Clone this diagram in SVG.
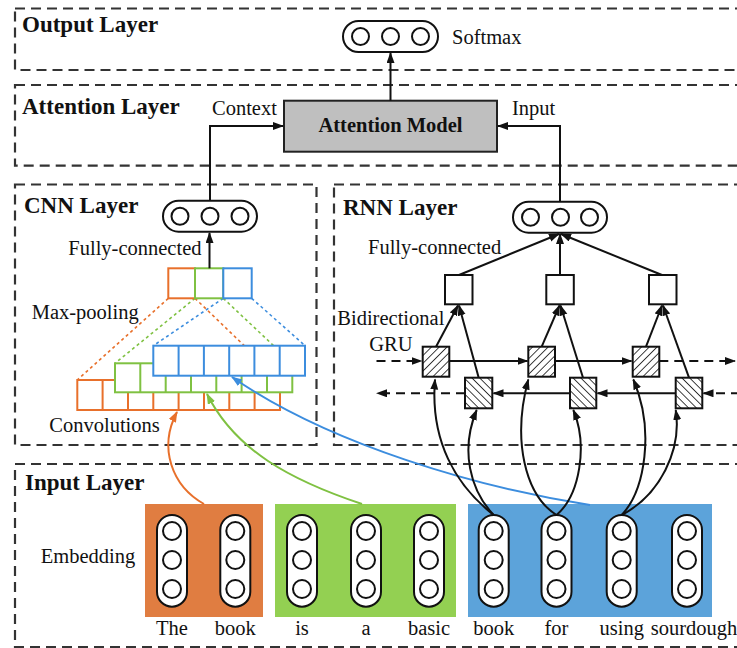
<svg xmlns="http://www.w3.org/2000/svg" width="737" height="648" viewBox="0 0 737 648">
<style>
text{font-family:"Liberation Serif","Times New Roman",serif;fill:#111}
.t{font-size:20.5px}
.h{font-size:23px;font-weight:bold}
.frame{fill:none;stroke:#333;stroke-width:2.2;stroke-dasharray:10,6}
.ln{fill:none;stroke:#111;stroke-width:2}
.dl{fill:none;stroke:#111;stroke-width:2;stroke-dasharray:9,6}
.box{fill:#fff;stroke:#111;stroke-width:2}
.cir{fill:#fff;stroke:#111;stroke-width:2}
.or{stroke:#E8702B}
.gr{stroke:#7FC142}
.bl{stroke:#3C8DDE}
.dot{fill:none;stroke-width:1.6;stroke-dasharray:3,3}
.cell{fill:#fff;stroke-width:2}
</style>
<defs>
<marker id="ah" markerUnits="userSpaceOnUse" markerWidth="12" markerHeight="10" refX="10" refY="4" orient="auto"><path d="M0,0 L11,4 L0,8 z" fill="#111"/></marker>
<marker id="aho" markerUnits="userSpaceOnUse" markerWidth="12" markerHeight="10" refX="10" refY="4" orient="auto"><path d="M0,0 L11,4 L0,8 z" fill="#E8702B"/></marker>
<marker id="ahg" markerUnits="userSpaceOnUse" markerWidth="12" markerHeight="10" refX="10" refY="4" orient="auto"><path d="M0,0 L11,4 L0,8 z" fill="#7FC142"/></marker>
<marker id="ahb" markerUnits="userSpaceOnUse" markerWidth="12" markerHeight="10" refX="10" refY="4" orient="auto"><path d="M0,0 L11,4 L0,8 z" fill="#3C8DDE"/></marker>
<pattern id="fwd" patternUnits="userSpaceOnUse" width="5.5" height="5.5" patternTransform="rotate(45)"><rect width="5.5" height="5.5" fill="#fff"/><line x1="0" y1="0" x2="0" y2="5.5" stroke="#111" stroke-width="1.6"/></pattern>
<pattern id="bwd" patternUnits="userSpaceOnUse" width="5.5" height="5.5" patternTransform="rotate(-45)"><rect width="5.5" height="5.5" fill="#fff"/><line x1="0" y1="0" x2="0" y2="5.5" stroke="#111" stroke-width="1.6"/></pattern>
</defs>
<rect width="737" height="648" fill="#fff"/>

<!-- layer frames -->
<g id="frames">
<rect class="frame" x="15" y="8.5" width="745" height="61.5"/>
<rect class="frame" x="15" y="85" width="745" height="80.7"/>
<rect class="frame" x="15" y="184.5" width="301.5" height="260.5"/>
<rect class="frame" x="334" y="184.5" width="426" height="260.5"/>
<rect class="frame" x="15" y="464" width="745" height="183"/>
</g>

<!-- input segment backgrounds -->
<g id="segments">
<rect id="seg-orange" x="145" y="504" width="118" height="113" fill="#E07D41"/>
<rect id="seg-green" x="275" y="504" width="181" height="113" fill="#93D052"/>
<rect id="seg-blue" x="468" y="504" width="244" height="113" fill="#5CA3DA"/>
</g>

<!-- Output layer -->
<g id="output-layer">
<text class="h" x="22" y="32">Output Layer</text>
</g>
<g id="softmax">
<rect class="box" x="343" y="21" width="95" height="31" rx="15.5"/>
<circle class="cir" cx="360.5" cy="36.5" r="8.5"/>
<circle class="cir" cx="390.5" cy="36.5" r="8.5"/>
<circle class="cir" cx="420.5" cy="36.5" r="8.5"/>
<text class="t" x="452" y="44">Softmax</text>
</g>

<!-- Attention layer -->
<g id="attention-layer">
<text class="h" x="22" y="114">Attention Layer</text>
<text class="t" x="212" y="115">Context</text>
<text class="t" x="512" y="115">Input</text>
</g>
<g id="attention-model">
<rect x="284" y="100.7" width="213" height="51" fill="#BFBFBF" stroke="#222" stroke-width="2"/>
<text x="390.5" y="132" text-anchor="middle" style="font-size:20.5px;font-weight:bold">Attention Model</text>
</g>

<!-- CNN layer -->
<g id="cnn-layer">
<text class="h" x="24" y="213">CNN Layer</text>
<text class="t" x="68.3" y="255">Fully-connected</text>
<text class="t" x="31.7" y="319">Max-pooling</text>
<text class="t" x="49.3" y="431.7">Convolutions</text>
</g>
<g id="cnn-fc">
<rect class="box" x="163" y="200.7" width="94" height="31" rx="15.5"/>
<circle class="cir" cx="180" cy="216.2" r="8.5"/>
<circle class="cir" cx="210" cy="216.2" r="8.5"/>
<circle class="cir" cx="240" cy="216.2" r="8.5"/>
</g>
<g id="pool-links">
<path class="dot or" d="M168.3,298.3 L77.3,380 M195,298.3 L280,380"/>
<path class="dot gr" d="M195,298.3 L115,363.3 M223.3,298.3 L292.3,363.3"/>
<path class="dot bl" d="M223.3,298.3 L153.3,345.7 M251.7,298.3 L305,345.7"/>
</g>
<g id="cnn-maxpool">
<rect class="cell or" x="168.3" y="268.3" width="26.7" height="30"/>
<rect class="cell gr" x="195" y="268.3" width="28.3" height="30"/>
<rect class="cell bl" x="223.3" y="268.3" width="28.4" height="30"/>
</g>
<g id="conv-orange">
<rect class="cell or" x="77.3" y="380" width="202.7" height="30"/>
<path class="or" stroke-width="2" d="M102.6,380 V410 M128,380 V410 M153.3,380 V410 M178.6,380 V410 M204,380 V410 M229.3,380 V410 M254.6,380 V410"/>
</g>
<g id="conv-green">
<rect class="cell gr" x="115" y="363.3" width="177.3" height="29"/>
<path class="gr" stroke-width="2" d="M140.3,363.3 V392.3 M165.7,363.3 V392.3 M191,363.3 V392.3 M216.3,363.3 V392.3 M241.6,363.3 V392.3 M267,363.3 V392.3"/>
</g>
<g id="conv-blue">
<rect class="cell bl" x="153.3" y="345.7" width="151.7" height="30"/>
<path class="bl" stroke-width="2" d="M178.6,345.7 V375.7 M203.9,345.7 V375.7 M229.2,345.7 V375.7 M254.4,345.7 V375.7 M279.7,345.7 V375.7"/>
</g>

<!-- RNN layer -->
<g id="rnn-layer">
<text class="h" x="343" y="215">RNN Layer</text>
<text class="t" x="368" y="254">Fully-connected</text>
<text class="t" x="337.3" y="325">Bidirectional</text>
<text class="t" x="369.3" y="350.7">GRU</text>
</g>
<g id="rnn-fc">
<rect class="box" x="513" y="201.7" width="94" height="31" rx="15.5"/>
<circle class="cir" cx="530.5" cy="217.2" r="8.5"/>
<circle class="cir" cx="560.5" cy="217.2" r="8.5"/>
<circle class="cir" cx="589.5" cy="217.2" r="8.5"/>
</g>
<g id="rnn-hidden">
<rect class="box" x="445" y="275" width="27.5" height="29.3"/>
<rect class="box" x="546.3" y="275" width="27.5" height="29.3"/>
<rect class="box" x="649" y="275" width="27.5" height="29.3"/>
</g>
<g id="gru-forward">
<rect x="422.7" y="346.7" width="26.6" height="30" fill="url(#fwd)" stroke="#111" stroke-width="2"/>
<rect x="528.3" y="346.7" width="26.7" height="30" fill="url(#fwd)" stroke="#111" stroke-width="2"/>
<rect x="632.7" y="346.7" width="26.6" height="30" fill="url(#fwd)" stroke="#111" stroke-width="2"/>
</g>
<g id="gru-backward">
<rect x="465" y="377.7" width="27.3" height="30.6" fill="url(#bwd)" stroke="#111" stroke-width="2"/>
<rect x="570" y="377.7" width="26.3" height="30.6" fill="url(#bwd)" stroke="#111" stroke-width="2"/>
<rect x="675.7" y="377.7" width="26.6" height="30.6" fill="url(#bwd)" stroke="#111" stroke-width="2"/>
</g>

<!-- Input layer -->
<g id="input-layer">
<text class="h" x="25" y="490">Input Layer</text>
<text class="t" x="40.7" y="563">Embedding</text>
</g>
<g id="emb-the"><rect class="box" x="157" y="515" width="30" height="91.7" rx="15"/><circle class="cir" cx="172" cy="531" r="9"/><circle class="cir" cx="172" cy="560" r="9"/><circle class="cir" cx="172" cy="589" r="9"/><text class="t" x="172" y="635" text-anchor="middle">The</text></g>
<g id="emb-book1"><rect class="box" x="220.3" y="515" width="30" height="91.7" rx="15"/><circle class="cir" cx="235.3" cy="531" r="9"/><circle class="cir" cx="235.3" cy="560" r="9"/><circle class="cir" cx="235.3" cy="589" r="9"/><text class="t" x="235.3" y="635" text-anchor="middle">book</text></g>
<g id="emb-is"><rect class="box" x="287" y="515" width="30" height="91.7" rx="15"/><circle class="cir" cx="302" cy="531" r="9"/><circle class="cir" cx="302" cy="560" r="9"/><circle class="cir" cx="302" cy="589" r="9"/><text class="t" x="302" y="635" text-anchor="middle">is</text></g>
<g id="emb-a"><rect class="box" x="351" y="515" width="30" height="91.7" rx="15"/><circle class="cir" cx="366" cy="531" r="9"/><circle class="cir" cx="366" cy="560" r="9"/><circle class="cir" cx="366" cy="589" r="9"/><text class="t" x="366" y="635" text-anchor="middle">a</text></g>
<g id="emb-basic"><rect class="box" x="414" y="515" width="30" height="91.7" rx="15"/><circle class="cir" cx="429" cy="531" r="9"/><circle class="cir" cx="429" cy="560" r="9"/><circle class="cir" cx="429" cy="589" r="9"/><text class="t" x="429" y="635" text-anchor="middle">basic</text></g>
<g id="emb-book2"><rect class="box" x="478.7" y="515" width="30" height="91.7" rx="15"/><circle class="cir" cx="493.7" cy="531" r="9"/><circle class="cir" cx="493.7" cy="560" r="9"/><circle class="cir" cx="493.7" cy="589" r="9"/><text class="t" x="493.7" y="635" text-anchor="middle">book</text></g>
<g id="emb-for"><rect class="box" x="541.5" y="515" width="30" height="91.7" rx="15"/><circle class="cir" cx="556.5" cy="531" r="9"/><circle class="cir" cx="556.5" cy="560" r="9"/><circle class="cir" cx="556.5" cy="589" r="9"/><text class="t" x="556.5" y="635" text-anchor="middle">for</text></g>
<g id="emb-using"><rect class="box" x="606.7" y="515" width="30" height="91.7" rx="15"/><circle class="cir" cx="621.7" cy="531" r="9"/><circle class="cir" cx="621.7" cy="560" r="9"/><circle class="cir" cx="621.7" cy="589" r="9"/><text class="t" x="621.7" y="635" text-anchor="middle">using</text></g>
<g id="emb-sourdough"><rect class="box" x="672" y="515" width="30" height="91.7" rx="15"/><circle class="cir" cx="687" cy="531" r="9"/><circle class="cir" cx="687" cy="560" r="9"/><circle class="cir" cx="687" cy="589" r="9"/><text class="t" x="694" y="635" text-anchor="middle">sourdough</text></g>

<!-- connectors -->
<g id="connectors">
<path class="ln" d="M390.5,100.7 V53" marker-end="url(#ah)"/>
<path class="ln" d="M210,200.7 V126 H283" marker-end="url(#ah)"/>
<path class="ln" d="M560,201.7 V126 H498" marker-end="url(#ah)"/>
<path class="ln" d="M209.5,268.3 V233" marker-end="url(#ah)"/>
<!-- colored input curves -->
<path fill="none" stroke="#E8702B" stroke-width="2" d="M204,504 C172,486 158,448 177,412" marker-end="url(#aho)"/>
<path fill="none" stroke="#7FC142" stroke-width="2" d="M362,504 C290,480 235,450 207,394" marker-end="url(#ahg)"/>
<path fill="none" stroke="#3C8DDE" stroke-width="2" d="M590,505 C480,488 330,445 232,377" marker-end="url(#ahb)"/>
<!-- RNN fully connected -->
<path class="ln" d="M459,275 L559,234" marker-end="url(#ah)"/>
<path class="ln" d="M560,275 V234" marker-end="url(#ah)"/>
<path class="ln" d="M662,275 L561,234" marker-end="url(#ah)"/>
<!-- GRU to FC -->
<path class="ln" d="M436,346.7 L458,305.5" marker-end="url(#ah)"/>
<path class="ln" d="M478.7,377.7 L459,305.5" marker-end="url(#ah)"/>
<path class="ln" d="M541.7,346.7 L559.5,305.5" marker-end="url(#ah)"/>
<path class="ln" d="M583,377.7 L560.5,305.5" marker-end="url(#ah)"/>
<path class="ln" d="M646,346.7 L662,305.5" marker-end="url(#ah)"/>
<path class="ln" d="M689,377.7 L663,305.5" marker-end="url(#ah)"/>
<!-- forward chain -->
<path class="dl" d="M376.5,361 H421.5" marker-end="url(#ah)"/>
<path class="ln" d="M449.3,361 H527.5" marker-end="url(#ah)"/>
<path class="ln" d="M555,361 H631.5" marker-end="url(#ah)"/>
<path class="dl" d="M659.3,361 H735" marker-end="url(#ah)"/>
<!-- backward chain -->
<path class="dl" d="M465,393.3 H377" marker-end="url(#ah)"/>
<path class="ln" d="M570,393.3 H493.5" marker-end="url(#ah)"/>
<path class="ln" d="M675.7,393.3 H597.5" marker-end="url(#ah)"/>
<path class="dl" d="M740,393.3 H703.5" marker-end="url(#ah)"/>
<!-- embeddings to GRU -->
<path class="ln" d="M493.7,515 C455,485 430,440 435,379.5" marker-end="url(#ah)"/>
<path class="ln" d="M493.7,515 C470,490 460,450 476.7,410" marker-end="url(#ah)"/>
<path class="ln" d="M556.5,515 C525,495 512,440 528.3,379.5" marker-end="url(#ah)"/>
<path class="ln" d="M556.5,515 C580,495 588,445 573.3,410" marker-end="url(#ah)"/>
<path class="ln" d="M621.7,515 C645,490 655,430 633.3,379.5" marker-end="url(#ah)"/>
<path class="ln" d="M621.7,515 C660,495 682,450 675.7,410" marker-end="url(#ah)"/>
</g>
</svg>
